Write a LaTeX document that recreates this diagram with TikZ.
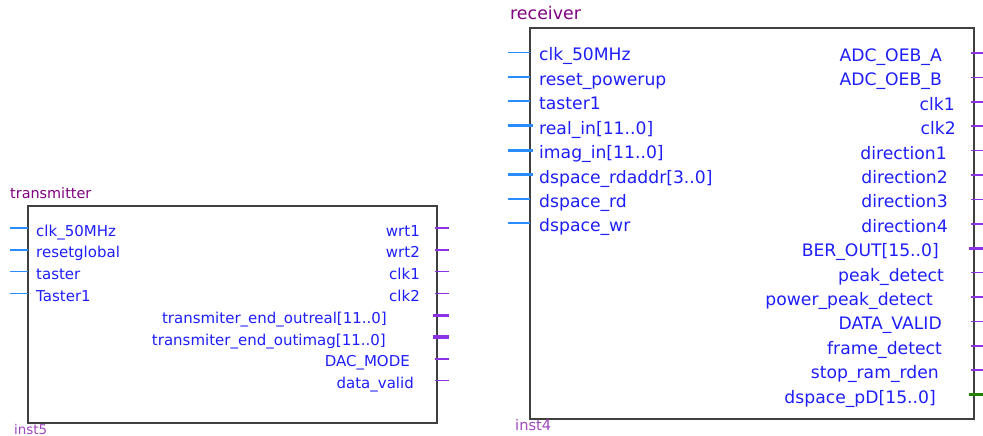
\documentclass[tikz,border=0pt]{standalone}
\usepackage{fontspec}
\setmainfont{DejaVu Sans}
\definecolor{qcolor0000}{RGB}{64,64,64}
\definecolor{qcolor0001}{RGB}{30,30,250}
\definecolor{qcolor0002}{RGB}{128,0,128}
\definecolor{qcolor0003}{RGB}{40,140,255}
\definecolor{qcolor0004}{RGB}{140,50,230}
\definecolor{qcolor0005}{RGB}{34,130,0}
\definecolor{qcolor0006}{RGB}{160,70,190}

\begin{document}
\begin{tikzpicture}[yscale=-1
,qstyle0/.style={color=qcolor0000,line width=1.6pt}
,qstyle1/.style={color=qcolor0003,line width=1.7pt}
,qstyle2/.style={color=qcolor0003,line width=3.2pt}
,qstyle3/.style={color=qcolor0004,line width=1.7pt}
,qstyle4/.style={color=qcolor0004,line width=3.2pt}
,qstyle5/.style={color=qcolor0005,line width=3.2pt}
,txlabel/.style={color=qcolor0001,inner sep=0pt,font=\fontsize{15pt}{18pt}\selectfont}
,rxlabel/.style={color=qcolor0001,inner sep=0pt,font=\fontsize{17.2pt}{20pt}\selectfont}
,title/.style={color=qcolor0002,inner sep=0pt,anchor=base west}
,inst/.style={color=qcolor0006,inner sep=0pt,anchor=base west}
]
\useasboundingbox (0pt,0pt) rectangle (983pt,436pt);
% transmitter
\draw[qstyle0] (28pt,206pt) rectangle (437pt,423pt);
\node (txtitle) at (10pt,198pt)[title,font=\fontsize{14.4pt}{17pt}\selectfont]{transmitter};
\node (txinst) at (14pt,434pt)[inst,font=\fontsize{13.4pt}{16pt}\selectfont]{inst5};
\draw[qstyle1] (10pt,228pt) -- (28pt,228pt);
\node (txclk) at (36pt,236pt)[txlabel,anchor=base west]{clk\_50MHz};
\draw[qstyle1] (10pt,249.8pt) -- (28pt,249.8pt);
\node (txreset) at (36pt,257.8pt)[txlabel,anchor=base west]{resetglobal};
\draw[qstyle1] (10pt,271.6pt) -- (28pt,271.6pt);
\node (txtaster) at (36pt,279.6pt)[txlabel,anchor=base west]{taster};
\draw[qstyle1] (10pt,293.4pt) -- (28pt,293.4pt);
\node (txtaster1) at (36pt,301.4pt)[txlabel,anchor=base west]{Taster1};
\draw[qstyle3] (435pt,228pt) -- (449pt,228pt);
\node (txwrt1) at (420pt,236pt)[txlabel,anchor=base east]{wrt1};
\draw[qstyle3] (435pt,249.8pt) -- (449pt,249.8pt);
\node (txwrt2) at (420pt,257.8pt)[txlabel,anchor=base east]{wrt2};
\draw[qstyle3] (435pt,271.6pt) -- (449pt,271.6pt);
\node (txclk1) at (420pt,279.6pt)[txlabel,anchor=base east]{clk1};
\draw[qstyle3] (435pt,293.4pt) -- (449pt,293.4pt);
\node (txclk2) at (420pt,301.4pt)[txlabel,anchor=base east]{clk2};
\draw[qstyle4] (433pt,315.2pt) -- (449pt,315.2pt);
\node (txreal) at (387pt,323.2pt)[txlabel,anchor=base east]{transmiter\_end\_outreal[11..0]};
\draw[qstyle4] (433pt,337pt) -- (449pt,337pt);
\node (timag) at (386pt,345pt)[txlabel,anchor=base east]{transmiter\_end\_outimag[11..0]};
\draw[qstyle3] (435pt,358.8pt) -- (449pt,358.8pt);
\node (txdac) at (410pt,366.8pt)[txlabel,anchor=base east]{DAC\_MODE};
\draw[qstyle3] (435pt,380.6pt) -- (449pt,380.6pt);
\node (txvalid) at (414pt,388.6pt)[txlabel,anchor=base east]{data\_valid};
% receiver
\draw[qstyle0] (530pt,28pt) rectangle (974pt,419pt);
\node (rxtitle) at (510pt,20pt)[title,font=\fontsize{17.4pt}{20pt}\selectfont]{receiver};
\node (rxinst) at (515pt,430pt)[inst,font=\fontsize{14.6pt}{17pt}\selectfont]{inst4};
\draw[qstyle1] (508pt,52.5pt) -- (530pt,52.5pt);
\node (rxclk) at (539pt,61pt)[rxlabel,anchor=base west]{clk\_50MHz};
\draw[qstyle1] (508pt,76.9pt) -- (530pt,76.9pt);
\node (rxreset) at (539pt,85.4pt)[rxlabel,anchor=base west]{reset\_powerup};
\draw[qstyle1] (508pt,101.3pt) -- (530pt,101.3pt);
\node (rxtaster) at (539pt,109.8pt)[rxlabel,anchor=base west]{taster1};
\draw[qstyle2] (508pt,125.7pt) -- (533pt,125.7pt);
\node (rxreal) at (539pt,134.2pt)[rxlabel,anchor=base west]{real\_in[11..0]};
\draw[qstyle2] (508pt,150.1pt) -- (533pt,150.1pt);
\node (rximag) at (539pt,158.6pt)[rxlabel,anchor=base west]{imag\_in[11..0]};
\draw[qstyle2] (508pt,174.5pt) -- (533pt,174.5pt);
\node (rxaddr) at (539pt,183pt)[rxlabel,anchor=base west]{dspace\_rdaddr[3..0]};
\draw[qstyle1] (508pt,198.9pt) -- (530pt,198.9pt);
\node (rxrd) at (539pt,207.4pt)[rxlabel,anchor=base west]{dspace\_rd};
\draw[qstyle1] (508pt,223.3pt) -- (530pt,223.3pt);
\node (rxwr) at (539pt,231.8pt)[rxlabel,anchor=base west]{dspace\_wr};
\draw[qstyle3] (971pt,53pt) -- (983pt,53pt);
\node (rxoeba) at (942pt,61.5pt)[rxlabel,anchor=base east]{ADC\_OEB\_A};
\draw[qstyle3] (971pt,77.4pt) -- (983pt,77.4pt);
\node (rxoebb) at (942pt,85.9pt)[rxlabel,anchor=base east]{ADC\_OEB\_B};
\draw[qstyle3] (971pt,101.8pt) -- (983pt,101.8pt);
\node (rxclk1) at (955pt,110.3pt)[rxlabel,anchor=base east]{clk1};
\draw[qstyle3] (971pt,126.2pt) -- (983pt,126.2pt);
\node (rxclk2) at (956pt,134.7pt)[rxlabel,anchor=base east]{clk2};
\draw[qstyle3] (971pt,150.6pt) -- (983pt,150.6pt);
\node (rxdir1) at (947pt,159.1pt)[rxlabel,anchor=base east]{direction1};
\draw[qstyle3] (971pt,175pt) -- (983pt,175pt);
\node (rxdir2) at (948pt,183.5pt)[rxlabel,anchor=base east]{direction2};
\draw[qstyle3] (971pt,199.4pt) -- (983pt,199.4pt);
\node (rxdir3) at (948pt,207.9pt)[rxlabel,anchor=base east]{direction3};
\draw[qstyle3] (971pt,223.8pt) -- (983pt,223.8pt);
\node (rxdir4) at (948pt,232.3pt)[rxlabel,anchor=base east]{direction4};
\draw[qstyle4] (969pt,248.2pt) -- (983pt,248.2pt);
\node (rxber) at (939pt,256.7pt)[rxlabel,anchor=base east]{BER\_OUT[15..0]};
\draw[qstyle3] (971pt,272.6pt) -- (983pt,272.6pt);
\node (rxpeak) at (944pt,281.1pt)[rxlabel,anchor=base east]{peak\_detect};
\draw[qstyle3] (971pt,297pt) -- (983pt,297pt);
\node (rxppeak) at (933pt,305.5pt)[rxlabel,anchor=base east]{power\_peak\_detect};
\draw[qstyle3] (971pt,321.4pt) -- (983pt,321.4pt);
\node (rxvalid) at (942pt,329.9pt)[rxlabel,anchor=base east]{DATA\_VALID};
\draw[qstyle3] (971pt,345.8pt) -- (983pt,345.8pt);
\node (rxframe) at (942pt,354.3pt)[rxlabel,anchor=base east]{frame\_detect};
\draw[qstyle3] (971pt,370.2pt) -- (983pt,370.2pt);
\node (rxstop) at (939pt,378.7pt)[rxlabel,anchor=base east]{stop\_ram\_rden};
\draw[qstyle5] (969pt,394.6pt) -- (983pt,394.6pt);
\node (rxpd) at (936pt,403.1pt)[rxlabel,anchor=base east]{dspace\_pD[15..0]};
\end{tikzpicture}
\end{document}
